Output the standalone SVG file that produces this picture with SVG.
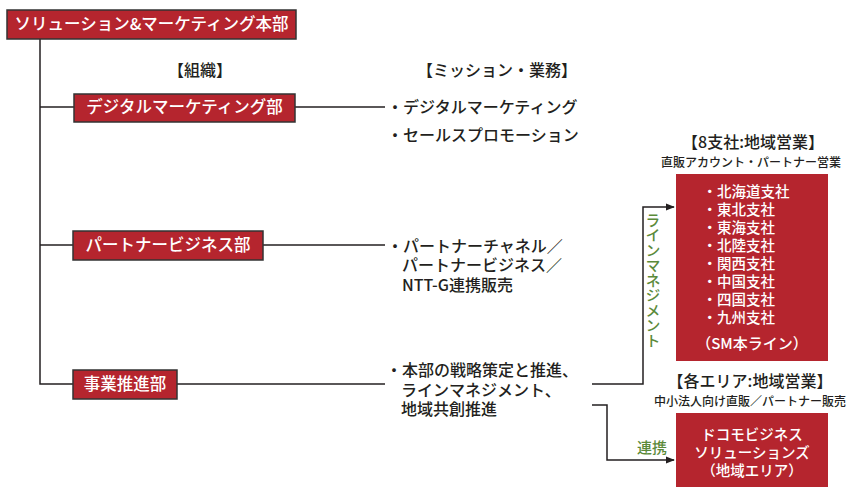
<svg xmlns="http://www.w3.org/2000/svg" width="852" height="489" viewBox="0 0 852 489">
<defs>
<style>
text{font-family:"Noto Sans CJK JP","Noto Sans",sans-serif;fill:#231f20;font-weight:500}
.org{fill:#b5252e;stroke:#333;stroke-width:1.5}
.reg{fill:#b5252e}
.wt{fill:#fff;font-size:16.5px;text-anchor:middle}
.wl{fill:#fff;font-size:14.5px}
.t16{font-size:16px}
.hd{font-size:16px;text-anchor:middle}
.sub{font-size:12px;text-anchor:middle}
.gr{fill:#5b8a3a;font-size:15px}
.ln{fill:none;stroke:#231f20;stroke-width:1.5}
</style>
<marker id="ah" viewBox="0 0 10 10" refX="9" refY="5" markerWidth="6" markerHeight="6" orient="auto"><path d="M0,1 L10,5 L0,9 z" fill="#231f20"/></marker>
</defs>

<g id="connectors">
<path class="ln" d="M40,39 V384 H73"/>
<path class="ln" d="M40,107 H74"/>
<path class="ln" d="M40,245 H73"/>
<path class="ln" d="M295,107 H385"/>
<path class="ln" d="M263,245 H385"/>
<path class="ln" d="M177,384 H385"/>
<path class="ln" d="M592,384 H643 V207 H674" marker-end="url(#ah)"/>
<path class="ln" d="M592,405 H607 V460 H674" marker-end="url(#ah)"/>
</g>

<g id="hq">
<rect class="org" x="7" y="10" width="289" height="29"/>
<text class="wt" x="151.5" y="30">ソリューション&amp;マーケティング本部</text>
</g>

<g id="labels">
<text class="hd" x="200" y="76">【組織】</text>
<text class="hd" x="497" y="76">【ミッション・業務】</text>
</g>

<g id="digital">
<rect class="org" x="74" y="94" width="221" height="28"/>
<text class="wt" x="184.5" y="113">デジタルマーケティング部</text>
<text class="t16" x="387" y="113">・デジタルマーケティング</text>
<text class="t16" x="387" y="141">・セールスプロモーション</text>
</g>

<g id="partner">
<rect class="org" x="73" y="231" width="190" height="29"/>
<text class="wt" x="168" y="251">パートナービジネス部</text>
<text class="t16" x="387" y="252">・パートナーチャネル／</text>
<text class="t16" x="402" y="271">パートナービジネス／</text>
<text class="t16" x="402" y="291">NTT-G連携販売</text>
</g>

<g id="promo">
<rect class="org" x="73" y="370" width="104" height="29"/>
<text class="wt" x="125" y="390">事業推進部</text>
<text class="t16" x="386" y="376">・本部の戦略策定と推進、</text>
<text class="t16" x="401" y="396">ラインマネジメント、</text>
<text class="t16" x="401" y="415">地域共創推進</text>
</g>

<g id="branches">
<text class="hd" x="753" y="148">【8支社:地域営業】</text>
<text class="sub" x="751" y="167">直販アカウント・パートナー営業</text>
<rect class="reg" x="676" y="174" width="152" height="187"/>
<text class="wl" x="702.5" y="197">・北海道支社</text>
<text class="wl" x="702.5" y="215">・東北支社</text>
<text class="wl" x="702.5" y="233">・東海支社</text>
<text class="wl" x="702.5" y="251">・北陸支社</text>
<text class="wl" x="702.5" y="269">・関西支社</text>
<text class="wl" x="702.5" y="287">・中国支社</text>
<text class="wl" x="702.5" y="305">・四国支社</text>
<text class="wl" x="702.5" y="323">・九州支社</text>
<text class="wt" x="752" y="349" style="font-size:15px">（SM本ライン）</text>
<text class="gr" x="653" y="213" writing-mode="vertical-rl">ラインマネジメント</text>
</g>

<g id="docomo">
<text class="hd" x="750" y="387">【各エリア:地域営業】</text>
<text class="sub" x="750" y="406">中小法人向け直販／パートナー販売</text>
<rect class="reg" x="676" y="413" width="152" height="74"/>
<text class="wt" x="752" y="440" style="font-size:14.5px">ドコモビジネス</text>
<text class="wt" x="752" y="458" style="font-size:14.5px">ソリューションズ</text>
<text class="wt" x="752" y="476" style="font-size:14.5px">（地域エリア）</text>
<text class="gr" x="637" y="453">連携</text>
</g>
</svg>
